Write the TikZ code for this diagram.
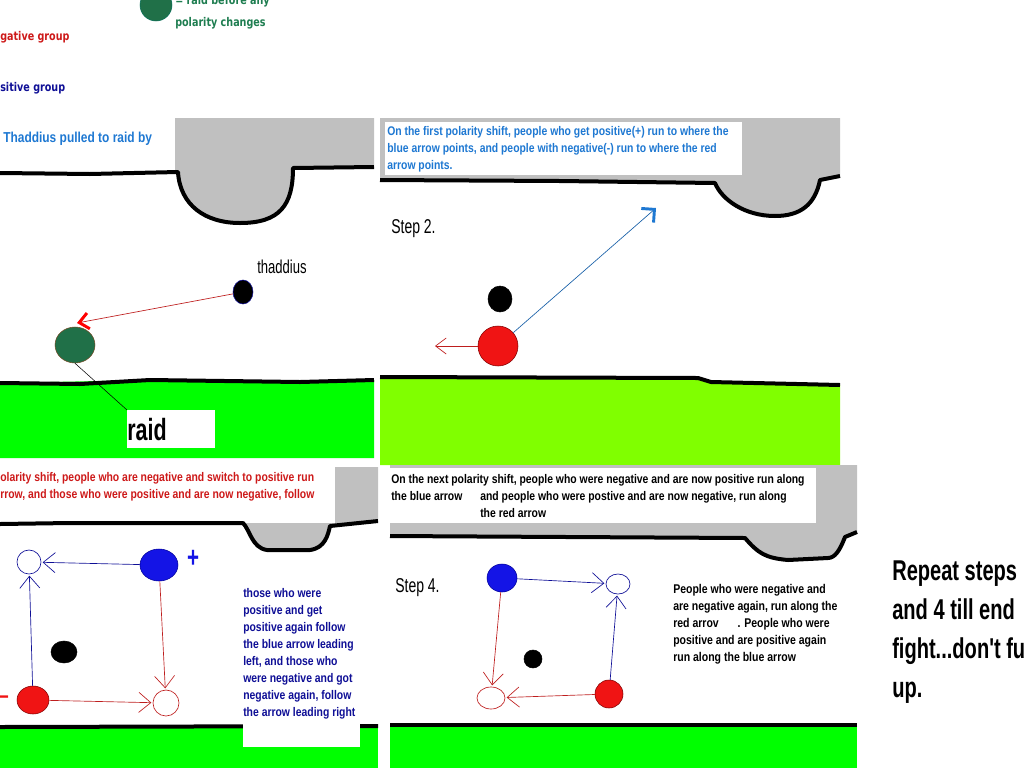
\documentclass[tikz,border=0pt]{standalone}
\usepackage{fontspec}
\newfontfamily\imp{Liberation Sans}[FakeStretch=0.83]
\newfontfamily\impn{Liberation Sans}[FakeStretch=0.7]
\newfontfamily\leg{DejaVu Sans}[FakeStretch=0.8]
\usetikzlibrary{arrows.meta,positioning,shapes.geometric}
\definecolor{gndA}{RGB}{0,255,0}
\definecolor{gndB}{RGB}{128,255,0}
\definecolor{rock}{RGB}{192,192,192}
\definecolor{skyblue}{RGB}{30,120,210}
\definecolor{navy}{RGB}{15,15,150}
\definecolor{dred}{RGB}{205,25,25}
\definecolor{raidgreen}{RGB}{32,112,72}
\definecolor{lgreen}{RGB}{30,125,80}
\definecolor{pred}{RGB}{240,20,20}
\definecolor{pblue}{RGB}{20,20,230}
\definecolor{ared}{RGB}{190,30,30}

\begin{document}
\begin{tikzpicture}[x=0.75pt,y=-0.75pt,
 dot/.style={ellipse,draw,inner sep=0pt},
 hole/.style={ellipse,draw,inner sep=0pt,line width=0.5pt},
 wall/.style={line width=3pt,line join=round},
 txt/.style={font=\imp\bfseries\fontsize{9.4}{12.75}\selectfont,align=left,inner sep=0pt,anchor=base west},
 big/.style={font=\impn\bfseries\fontsize{21.5}{29.25}\selectfont,align=left,inner sep=0pt,anchor=base west},
 steplbl/.style={font=\impn\fontsize{15}{15}\selectfont,inner sep=0pt,anchor=base west},
 barb/.style={line width=0.5pt,shorten >=1pt,-{Straight Barb[length=9pt,width=15pt]}}]
\useasboundingbox (0,0) rectangle (1024,768);
\clip (0,0) rectangle (1024,768);

% legend (multi-line nodes sit on their last line)
\node[dot,fill=raidgreen,draw=navy!60!green,minimum size=24pt] (key) at (156,5) {};
\node[txt,font=\leg\bfseries\fontsize{9}{16}\selectfont,text=lgreen] (keylbl) at (175,26) {= raid before any\\polarity changes};
\node[txt,font=\leg\bfseries\fontsize{9}{10}\selectfont,text=dred] (neglbl) at (0,40) {gative group};
\node[txt,font=\leg\bfseries\fontsize{9}{10}\selectfont,text=navy] (poslbl) at (0,91) {sitive group};

% step 1
\fill[rock] (175,118) -- (374,118) -- (374,167) -- (293,168) .. controls (293,205) and (280,223) .. (240,223) .. controls (205,223) and (180,205) .. (178,172) -- (175,172) -- cycle;
\draw[wall] (0,173) -- (90,174) -- (178,172) .. controls (180,205) and (205,223) .. (240,223) .. controls (280,223) and (293,205) .. (293,168) -- (374,167);
\fill[gndA] (0,383) -- (150,380) -- (374,380) -- (374,458) -- (0,458) -- cycle;
\draw[wall] (0,383) -- (80,384) -- (150,380) -- (300,382) -- (374,380);
\node[txt,font=\imp\bfseries\fontsize{10.8}{12}\selectfont,text=skyblue] (title1) at (3,142) {Thaddius pulled to raid by};
\node[dot,fill=raidgreen,draw=brown!60!black,minimum width=30pt,minimum height=27pt] (raid) at (75,345) {};
\node[dot,fill=black,draw=navy,minimum width=15pt,minimum height=18pt] (thad) at (243,292) {};
\node[steplbl,font=\impn\fontsize{14}{14}\selectfont] (thadlbl) at (257,273) {thaddius};
\coordinate (pull) at (77,323);
\draw[ared,line width=0.5pt,-{Straight Barb[color=red,line width=2.2pt,length=7pt,width=12pt]}] (thad) -- (pull);
\node[fill=white,anchor=north west,minimum width=66pt,minimum height=28.5pt,inner sep=0pt,text width=66pt,align=left,font=\impn\bfseries\fontsize{23}{23}\selectfont] (raidlbl) at (127,410) {raid};
\draw[line width=0.4pt] (raid.south) -- (raidlbl.north west);

% step 2
\fill[rock] (380,118) -- (840,118) -- (840,176) -- (820,180) .. controls (815,205) and (800,216) .. (775,216) .. controls (745,216) and (722,200) .. (715,183) -- (380,180) -- cycle;
\fill[white] (385,122) rectangle (742,175);
\draw[wall] (380,180) -- (560,181) -- (715,183) .. controls (722,200) and (745,216) .. (775,216) .. controls (800,216) and (815,205) .. (820,180) -- (840,176);
\fill[gndB] (380,377) -- (698,378) -- (711,382) -- (840,385) -- (840,465) -- (380,465) -- cycle;
\draw[wall] (380,377) -- (698,378) -- (711,382) -- (840,385);
\node[txt,text=skyblue] (note2) at (387,169) {On the first polarity shift, people who get positive(+) run to where the\\blue arrow points, and people with negative(-) run to where the red\\arrow points.};
\node[steplbl] (step2) at (391,233) {Step 2.};
\node[dot,fill=black,minimum width=18pt,minimum height=19.5pt] (boss2) at (500,299) {};
\node[dot,fill=pred,draw=red!50!black,minimum size=30pt] (neg2) at (498,346) {};
\coordinate (left2) at (435,346);
\coordinate (up2) at (656,208);
\draw[ared,line width=0.5pt,-{Straight Barb[length=8pt,width=12pt]}] (neg2) -- (left2);
\draw[skyblue!80!black,line width=0.5pt,-{Straight Barb[color=skyblue,line width=2.2pt,length=7pt,width=14pt]}] (neg2) -- (up2);

% step 3
\fill[rock] (335,467) -- (378,467) -- (378,521) -- (330,526) .. controls (328,535) and (325,548) .. (310,550) -- (267,550) .. controls (252,548) and (250,530) .. (243,523) -- (335,523) -- cycle;
\draw[wall] (0,524) -- (70,523) -- (243,523) .. controls (250,530) and (252,548) .. (267,550) -- (310,550) .. controls (325,548) and (328,535) .. (330,526) -- (378,521);
\fill[gndA] (0,727) rectangle (378,768);
\draw[wall] (0,727) -- (378,726);
\fill[white] (243,578) rectangle (360,747);
\node[txt,text=dred] (note3) at (0,498) {olarity shift, people who are negative and switch to positive run\\rrow, and those who were positive and are now negative, follow};
\node[dot,fill=pblue,draw=blue!60!black,minimum width=28.5pt,minimum height=24pt] (pos3) at (159,565) {};
\node[font=\impn\bfseries\fontsize{22}{22}\selectfont,text=pblue,inner sep=0pt] (plus3) at (193,559) {+};
\node[hole,draw=navy,minimum size=18pt] (posto3) at (29,562) {};
\node[dot,fill=black,minimum width=19.5pt,minimum height=16.5pt] (boss3) at (64,652) {};
\node[dot,fill=pred,draw=red!50!black,minimum width=24pt,minimum height=21pt] (neg3) at (33,700) {};
\node[font=\impn\bfseries\fontsize{18}{18}\selectfont,text=pred,inner sep=0pt,anchor=west] (minus3) at (-1,700) {–};
\node[hole,draw=ared,minimum size=19.5pt] (negto3) at (166,703) {};
\draw[navy,barb] (pos3) -- (posto3);
\draw[navy,barb] (neg3) -- (posto3);
\draw[ared,barb] (pos3) -- (negto3);
\draw[ared,barb] (neg3) -- (negto3);
\node[txt,text=navy] (rule3) at (243,716) {those who were\\positive and get\\positive again follow\\the blue arrow leading\\left, and those who\\were negative and got\\negative again, follow\\the arrow leading right};

% step 4
\fill[rock] (390,465) -- (857,465) -- (857,532) -- (845,537) .. controls (840,550) and (835,558) .. (828,558) -- (788,560) .. controls (765,558) and (758,553) .. (745,538) -- (390,536) -- cycle;
\fill[white] (390,468) rectangle (816,523);
\draw[wall] (390,536) -- (745,538) .. controls (758,553) and (765,558) .. (788,560) -- (828,558) .. controls (835,558) and (840,550) .. (845,537) -- (857,532);
\fill[gndA] (390,725) rectangle (857,768);
\draw[wall] (390,725) -- (857,725);
\node[txt] (note4) at (391,500) {On the next polarity shift, people who were negative and are now positive run along\\the blue arrow};
\node[txt] (note4b) at (480,517) {and people who were postive and are now negative, run along\\the red arrow};
\node[steplbl] (step4) at (395,592) {Step 4.};
\node[dot,fill=pblue,draw=blue!60!black,minimum width=22.5pt,minimum height=21pt] (pos4) at (502,578) {};
\node[hole,draw=navy,minimum width=18pt,minimum height=15pt] (posto4) at (618,584) {};
\node[dot,fill=black,minimum size=13.5pt] (boss4) at (533,659) {};
\node[dot,fill=pred,draw=red!50!black,minimum size=21pt] (neg4) at (609,694) {};
\node[hole,draw=ared,minimum width=21pt,minimum height=16.5pt] (negto4) at (491,698) {};
\draw[navy,barb] (pos4) -- (posto4);
\draw[navy,barb] (neg4) -- (posto4);
\draw[ared,barb] (pos4) -- (negto4);
\draw[ared,barb] (neg4) -- (negto4);
\node[txt,font=\imp\bfseries\fontsize{9.5}{12.75}\selectfont] (rule4) at (673,661) {People who were negative and\\are negative again, run along the\\red arrov\hspace{14pt}. People who were\\positive and are positive again\\run along the blue arrow};

% repeat
\node[big] (repeat) at (892,697) {Repeat steps\\and 4 till end\\fight...don't fu\\up.};
\end{tikzpicture}
\end{document}
